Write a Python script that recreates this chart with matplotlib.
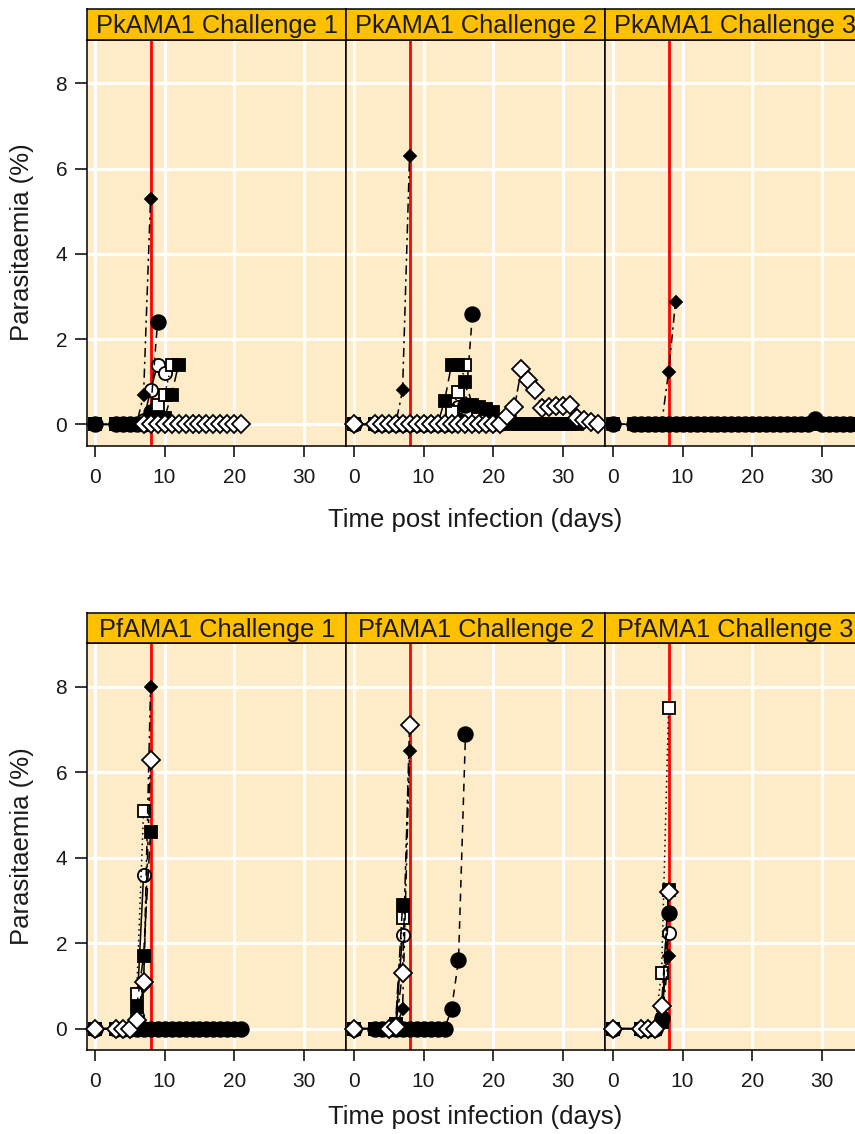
import matplotlib
matplotlib.use("Agg")
import matplotlib.pyplot as plt

plt.rcParams['font.family'] = ['Liberation Sans', 'DejaVu Sans']

W, H = 855, 1134

titles = ["PkAMA1 Challenge 1", "PkAMA1 Challenge 2", "PkAMA1 Challenge 3",
          "PfAMA1 Challenge 1", "PfAMA1 Challenge 2", "PfAMA1 Challenge 3"]

# each panel: one (days, parasitaemia) pair per animal, in group order
# groups: open circle, filled circle, open square, filled diamond, filled square, open diamond
pk1 = [
    ([0, 3, 4, 5, 6, 7, 8, 9, 10], [0, 0, 0, 0, 0, 0.1, 0.8, 1.4, 1.2]),
    ([0, 3, 4, 5, 6, 7, 8, 9], [0, 0, 0, 0, 0, 0, 0.3, 2.4]),
    ([0, 3, 4, 5, 6, 7, 8, 9, 10, 11], [0, 0, 0, 0, 0, 0, 0, 0.45, 0.7, 1.4]),
    ([0, 3, 4, 5, 6, 7, 8], [0, 0, 0, 0, 0, 0.7, 5.3]),
    ([0, 3, 4, 5, 6, 7, 8, 9, 10, 11, 12], [0, 0, 0, 0, 0, 0, 0, 0, 0.15, 0.7, 1.4]),
    ([7, 8, 9, 10, 11, 12, 13, 14, 15, 16, 17, 18, 19, 20, 21],
     [0, 0, 0, 0, 0, 0, 0, 0, 0, 0, 0, 0, 0, 0, 0]),
]
pk2 = [
    ([0, 3, 4, 5, 6, 7, 8, 9, 10, 11, 12, 13, 14, 15, 16, 17, 18, 19, 20, 21],
     [0, 0, 0, 0, 0, 0, 0, 0, 0, 0, 0, 0, 0, 0.4, 0.25, 0, 0, 0, 0, 0]),
    ([0, 3, 4, 5, 6, 7, 8, 9, 10, 11, 12, 13, 14, 15, 16, 17],
     [0, 0, 0, 0, 0, 0, 0, 0, 0, 0, 0, 0, 0, 0.1, 0.45, 2.6]),
    ([0, 3, 4, 5, 6, 7, 8, 9, 10, 11, 12, 13, 14, 15, 16],
     [0, 0, 0, 0, 0, 0, 0, 0, 0, 0, 0, 0, 0.3, 0.75, 1.4]),
    ([0, 3, 4, 5, 6, 7, 8], [0, 0, 0, 0, 0, 0.8, 6.3]),
    ([0, 3, 4, 5, 6, 7, 8, 9, 10, 11, 12, 13, 14, 15, 16, 17, 18, 19, 20, 21,
      22, 23, 24, 25, 26, 27, 28, 29, 30, 31, 32],
     [0, 0, 0, 0, 0, 0, 0, 0, 0, 0, 0, 0.55, 1.4, 1.4, 1.0, 0.45, 0.4, 0.35, 0.3, 0.1,
      0, 0, 0, 0, 0, 0, 0, 0, 0, 0, 0]),
    ([0, 3, 4, 5, 6, 7, 8, 9, 10, 11, 12, 13, 14, 15, 16, 17, 18, 19, 20, 21,
      22, 23, 24, 25, 26, 27, 28, 29, 30, 31, 32, 33, 34, 35],
     [0, 0, 0, 0, 0, 0, 0, 0, 0, 0, 0, 0, 0, 0, 0, 0, 0, 0, 0, 0,
      0.2, 0.4, 1.3, 1.05, 0.8, 0.38, 0.4, 0.42, 0.42, 0.45, 0.15, 0.1, 0.05, 0.02]),
]
pk3 = [
    None,
    ([0, 3, 4, 5, 6, 7, 8, 9, 10, 11, 12, 13, 14, 15, 16, 17, 18, 19, 20, 21,
      22, 23, 24, 25, 26, 27, 28, 29, 30, 31, 32, 33, 34, 35],
     [0, 0, 0, 0, 0, 0, 0, 0, 0, 0, 0, 0, 0, 0, 0, 0, 0, 0, 0, 0,
      0, 0, 0, 0, 0, 0, 0, 0.12, 0, 0, 0, 0, 0, 0]),
    None,
    ([0, 3, 4, 5, 6, 7, 8, 9], [0, 0, 0, 0, 0, 0, 1.23, 2.88]),
    ([0, 3, 4, 5, 6, 7, 8, 9, 10, 11, 12, 13, 14, 15, 16, 17, 18, 19, 20, 21,
      22, 23, 24, 25, 26, 27, 28, 29, 30, 31, 32, 33, 34, 35],
     [0, 0, 0, 0, 0, 0, 0, 0, 0, 0, 0, 0, 0, 0, 0, 0, 0, 0, 0, 0,
      0, 0, 0, 0, 0, 0, 0, 0, 0, 0, 0, 0, 0, 0]),
    None,
]
pf1 = [
    ([0, 3, 4, 5, 6, 7], [0, 0, 0, 0, 0.3, 3.6]),
    ([0, 3, 4, 5, 6, 7, 8, 9, 10, 11, 12, 13, 14, 15, 16, 17, 18, 19, 20, 21],
     [0, 0, 0, 0, 0, 0, 0, 0, 0, 0, 0, 0, 0, 0, 0, 0, 0, 0, 0, 0]),
    ([0, 3, 4, 5, 6, 7], [0, 0, 0, 0, 0.8, 5.1]),
    ([0, 3, 4, 5, 6, 7, 8], [0, 0, 0, 0, 0.1, 1.0, 8.0]),
    ([0, 3, 4, 5, 6, 7, 8], [0, 0, 0, 0, 0.5, 1.7, 4.6]),
    ([0, 3, 4, 5, 6, 7, 8], [0, 0, 0, 0, 0.2, 1.1, 6.3]),
]
pf2 = [
    ([0, 3, 4, 5, 6, 7], [0, 0, 0, 0, 0.05, 2.2]),
    ([0, 3, 4, 5, 6, 7, 8, 9, 10, 11, 12, 13, 14, 15, 16],
     [0, 0, 0, 0, 0, 0, 0, 0, 0, 0, 0, 0, 0.45, 1.6, 6.9]),
    ([0, 3, 4, 5, 6, 7], [0, 0, 0, 0, 0.1, 2.6]),
    ([0, 3, 4, 5, 6, 7, 8], [0, 0, 0, 0, 0, 0.45, 6.5]),
    ([0, 3, 4, 5, 6, 7], [0, 0, 0, 0, 0.1, 2.9]),
    ([0, 5, 6, 7, 8], [0, 0, 0.05, 1.3, 7.1]),
]
pf3 = [
    ([0, 4, 5, 6, 7, 8], [0, 0, 0, 0, 0.2, 2.25]),
    ([0, 4, 5, 6, 7, 8], [0, 0, 0, 0, 0.25, 2.7]),
    ([0, 4, 5, 6, 7, 8], [0, 0, 0, 0, 1.3, 7.5]),
    ([0, 4, 5, 6, 7, 8], [0, 0, 0, 0, 0.1, 1.7]),
    ([0, 4, 5, 6, 7, 8], [0, 0, 0, 0, 0.15, 3.25]),
    ([0, 4, 5, 6, 7, 8], [0, 0, 0, 0, 0.52, 3.2]),
]
panels = [pk1, pk2, pk3, pf1, pf2, pf3]

styles = [
    dict(marker='o', ms=9.5, mfc='white', ls='-'),
    dict(marker='o', ms=10.5, mfc='black', ls='--', dashes=(5, 4)),
    dict(marker='s', ms=9, mfc='white', ls='--', dashes=(1, 2.5)),
    dict(marker='D', ms=6, mfc='black', ls='--', dashes=(1.5, 3, 6, 3)),
    dict(marker='s', ms=8.5, mfc='black', ls='--', dashes=(8, 4)),
    dict(marker='D', ms=9, mfc='white', ls='--', dashes=(2.5, 2.5, 7, 2.5)),
]

txt = '#1a1a1a'
fig = plt.figure(figsize=(W / 100, H / 100), dpi=100)


def rect(x0, y0, x1, y1):
    return [x0 / W, 1 - y1 / H, (x1 - x0) / W, (y1 - y0) / H]


lefts = [87.3, 346.3, 605.3]
pw = 259
rows = [((9, 40), (40, 445.7)), ((613.3, 643.3), (643.3, 1050))]

for i, data in enumerate(panels):
    r, c = divmod(i, 3)
    (s0, s1), (p0, p1) = rows[r]
    x0 = lefts[c]
    ax = fig.add_axes(rect(x0, p0, x0 + pw, p1))
    ax.set_facecolor('#FEEBC8')
    ax.set_xlim(-1.05, 36.0)
    ax.set_ylim(-0.5, 9.02)
    ax.set_xticks([0, 10, 20, 30])
    ax.set_yticks([0, 2, 4, 6, 8])
    ax.grid(True, color='white', lw=2.2)
    ax.set_axisbelow(True)
    ax.axvline(8, color='red', lw=2, zorder=1.5)
    for st, ser in zip(styles, data):
        if ser is None:
            continue
        d, v = ser
        ax.plot(d, v, color='black', lw=1.1, mec='black', mew=1.3,
                clip_on=False, zorder=3, **st)
    for sp in ax.spines.values():
        sp.set_linewidth(1.1)
    ax.tick_params(axis='x', direction='out', length=8, width=1.1,
                   labelsize=15, pad=8, colors='black', labelcolor=txt)
    if c == 0:
        ax.tick_params(axis='y', direction='out', length=8.5, width=1.1,
                       labelsize=15, pad=6, colors='black', labelcolor=txt)
    else:
        ax.tick_params(axis='y', left=False, labelleft=False)

    sa = fig.add_axes(rect(x0, s0, x0 + pw, s1))
    sa.set_facecolor('#FFC000')
    sa.set_xticks([])
    sa.set_yticks([])
    for sp in sa.spines.values():
        sp.set_linewidth(1.1)
    sa.text(0.5, 0.45, titles[i], transform=sa.transAxes, ha='center',
            va='center', fontsize=18.3, color=txt)

for yc, xl in [(242.5, 520), (846.5, 1117)]:
    fig.text(22 / W, 1 - yc / H, 'Parasitaemia (%)', rotation=90,
             ha='center', va='center', fontsize=18.5, color=txt)
    fig.text(475 / W, 1 - xl / H, 'Time post infection (days)',
             ha='center', va='center', fontsize=18.5, color=txt)

fig.savefig('out.png', dpi=100)
